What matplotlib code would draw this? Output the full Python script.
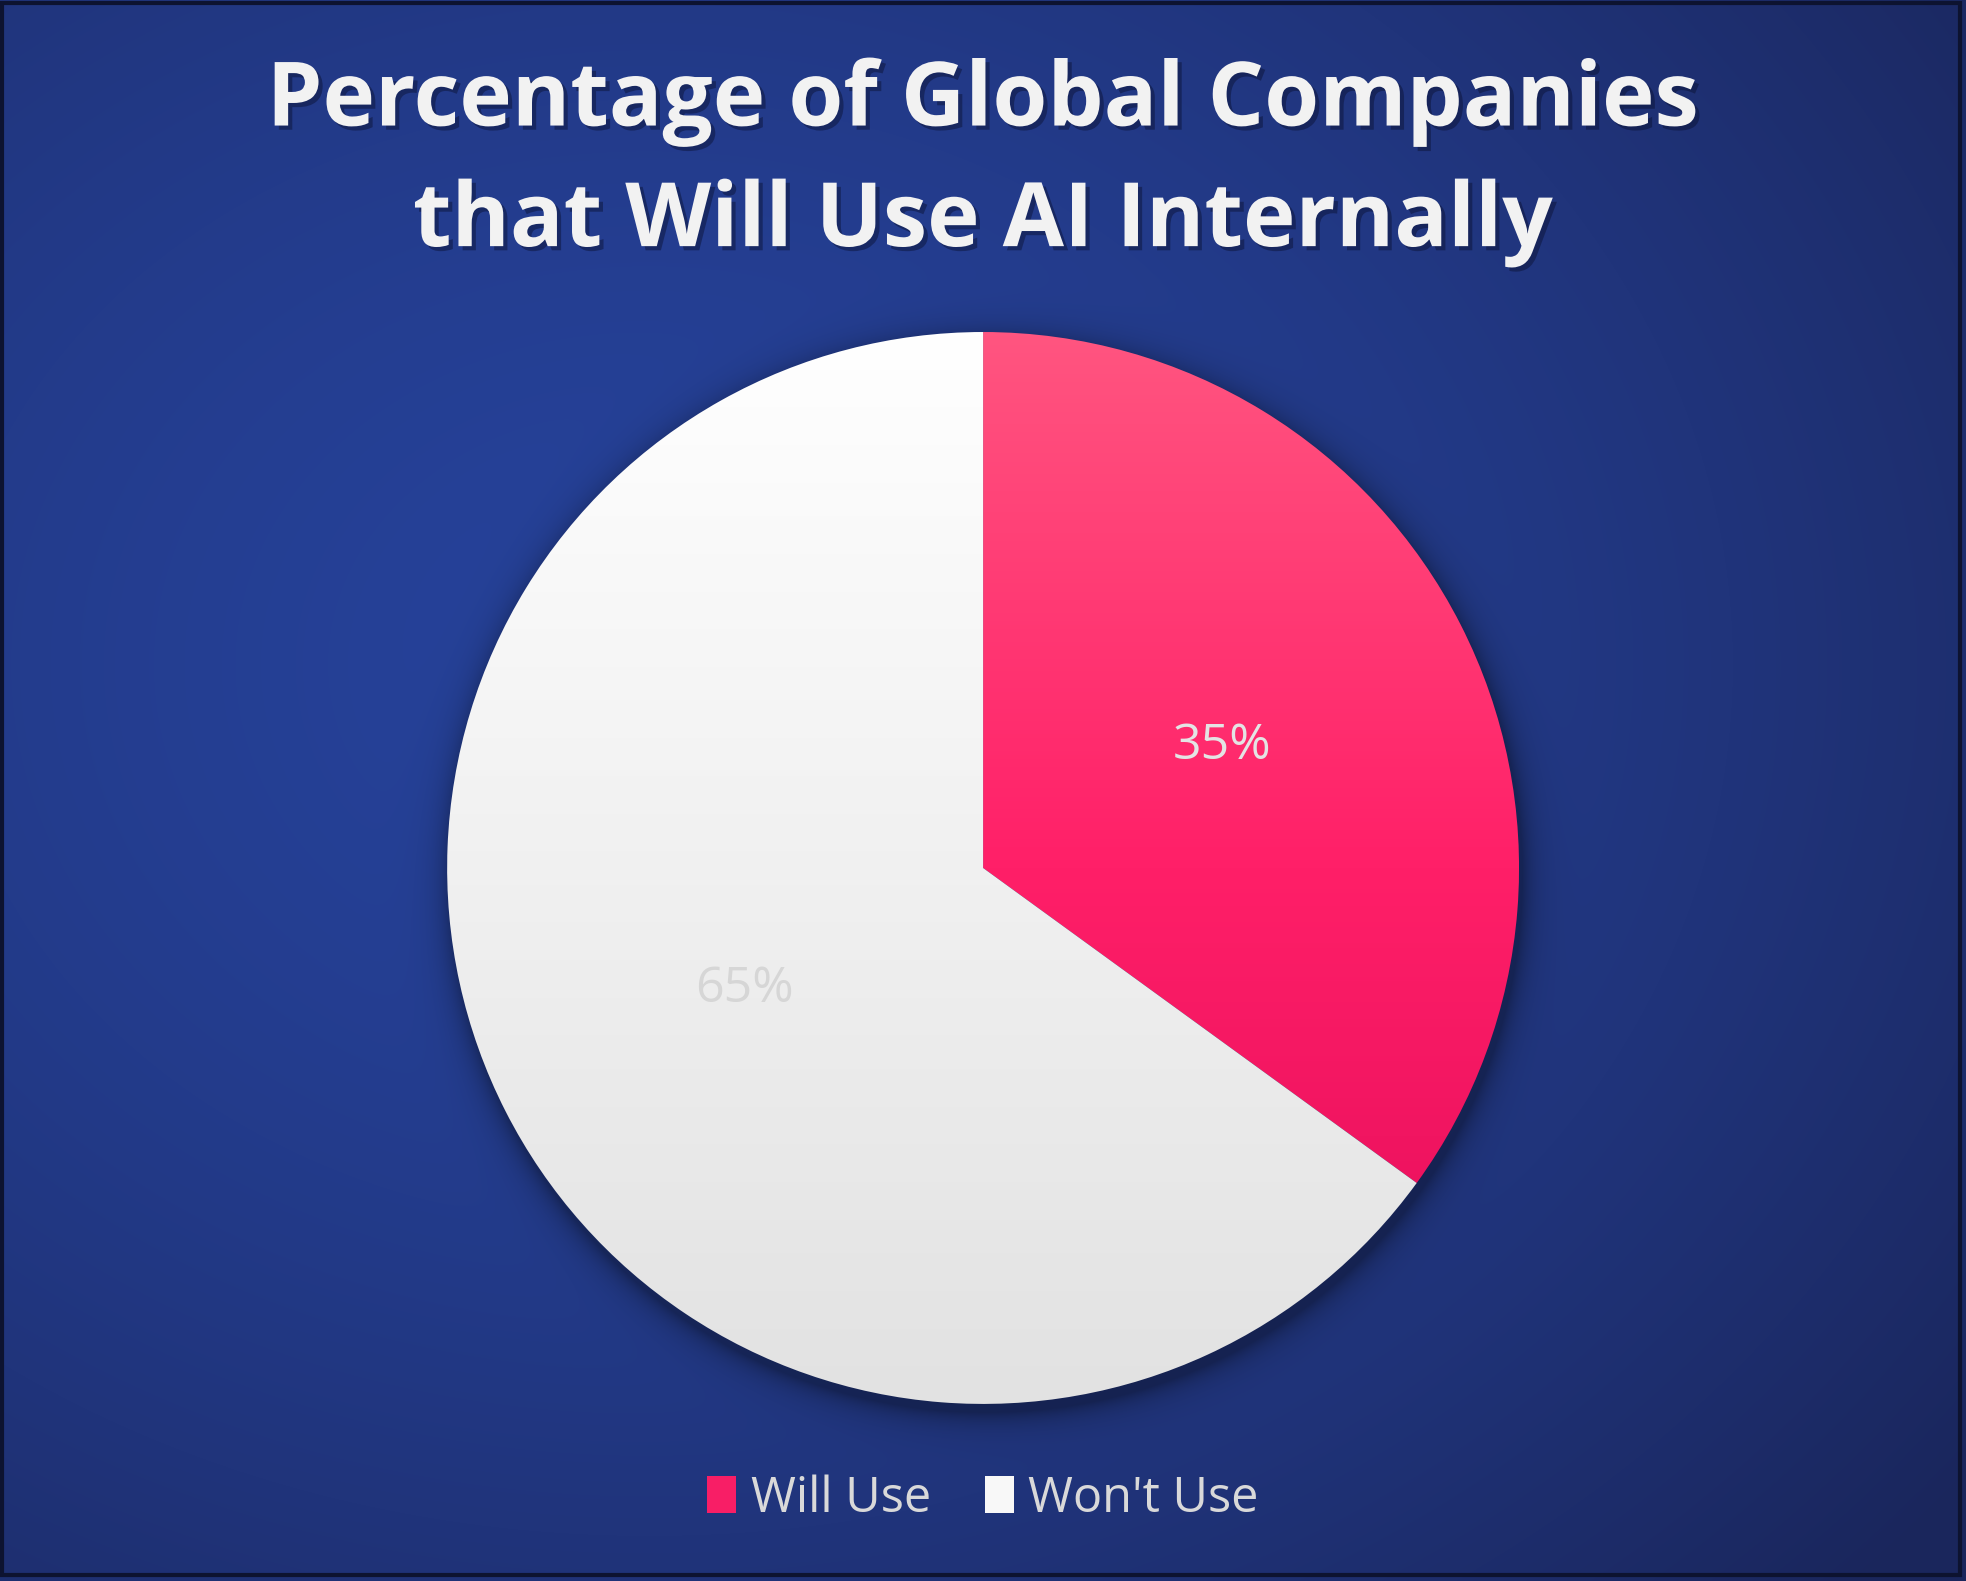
import matplotlib.pyplot as plt
import matplotlib.patches as mpatches
import matplotlib.patheffects as pe
import numpy as np

# chart data
labels = ["Will Use", "Won't Use"]
shares = [35, 65]
top_colors = ["#ff5580", "#ffffff"]
bottom_colors = ["#e30b5a", "#e2e2e2"]
legend_colors = ["#f81e66", "#f8f8f8"]
title = "Percentage of Global Companies\nthat Will Use AI Internally"

W, H, DPI = 1966, 1581, 100
fig = plt.figure(figsize=(W / DPI, H / DPI), dpi=DPI)
fig.patch.set_facecolor("white")

# pie position in figure fractions
pie_box = [0.2274, 0.112, 0.5453, 0.678]

# background: radial blue gradient + soft shadow around the pie
bg = fig.add_axes([0, 0, 1, 1], zorder=0)
yy, xx = np.mgrid[0:H, 0:W]
cx, cy = 0.33 * W, 0.42 * H
d = np.sqrt(((xx - cx) / W) ** 2 + ((yy - cy) / H) ** 2)
t = np.clip(d / 0.85, 0, 1) ** 1.6
inner = np.array([0x26, 0x42, 0x9a]) / 255
outer = np.array([0x1a, 0x26, 0x5c]) / 255
img = inner[None, None, :] * (1 - t[..., None]) + outer[None, None, :] * t[..., None]

pcx = (pie_box[0] + pie_box[2] / 2) * W
pcy = (1 - (pie_box[1] + pie_box[3] / 2)) * H
prad = pie_box[2] * W / 2
r = np.sqrt((xx - pcx - 3) ** 2 + (yy - pcy - 8) ** 2)
shadow = np.exp(-np.clip(r - prad, 0, None) / 14.0) * 0.35
img = img * (1 - shadow[..., None])

bg.imshow(img, extent=[0, 1, 0, 1], aspect="auto", origin="upper")
bg.add_patch(mpatches.Rectangle((0.001, 0.004), 0.996, 0.994, fill=False,
                                edgecolor="#0d1330", linewidth=3))
bg.set_xlim(0, 1)
bg.set_ylim(0, 1)
bg.axis("off")

# pie
ax = fig.add_axes(pie_box, zorder=2)
ax.set_facecolor("none")
wedges, texts, autotexts = ax.pie(
    shares, startangle=90, counterclock=False, radius=1,
    autopct="%d%%", pctdistance=0.5,
    colors=legend_colors,
    wedgeprops=dict(linewidth=0),
    textprops=dict(fontsize=36, family="Open Sans"))
autotexts[0].set_color("#e4e4e4")
autotexts[1].set_color("#d6d6d6")
for at in autotexts:
    at.set_zorder(5)

# vertical gradient fill for each wedge
to_rgb = plt.matplotlib.colors.to_rgb
s = np.linspace(0, 1, 256)[:, None]
for i, (w, c1, c2) in enumerate(zip(wedges, top_colors, bottom_colors)):
    c1 = np.array(to_rgb(c1))
    c2 = np.array(to_rgb(c2))
    if i == 0:
        # pink slice: lighter at top, saturated in the middle, darker at bottom
        mid = np.array(to_rgb("#ff1f68"))
        grad = np.where(s < 0.5,
                        c1 * (1 - s / 0.5) + mid * (s / 0.5),
                        mid * (1 - (s - 0.5) / 0.5) + c2 * ((s - 0.5) / 0.5))
    else:
        grad = c1 * (1 - s) + c2 * s
    im = ax.imshow(grad[:, None, :], extent=[-1, 1, -1, 1], aspect="auto",
                   origin="upper", zorder=1)
    im.set_clip_path(w)
    w.set_alpha(0)

ax.set_xlim(-1, 1)
ax.set_ylim(-1, 1)
ax.set_aspect("equal")
ax.axis("off")

# title
fig.text(0.5, 0.897, title, ha="center", va="center", color="#f2f2f2",
         fontsize=64, fontweight="bold", family="Open Sans", linespacing=1.45,
         path_effects=[pe.withSimplePatchShadow(offset=(3, -3), alpha=0.45,
                                                 shadow_rgbFace="#0a1030")])

# legend
handles = [mpatches.Patch(facecolor=c, edgecolor="none", label=l)
           for c, l in zip(legend_colors, labels)]
leg = fig.legend(handles=handles, loc="center", bbox_to_anchor=(0.5, 0.052),
                 ncol=2, frameon=False, handlelength=0.6,
                 handleheight=0.8, handletextpad=0.3, columnspacing=1.1,
                 prop=dict(family="Open Sans", size=35))
for txt in leg.get_texts():
    txt.set_color("#d9d9d9")

fig.savefig("out.png", dpi=DPI, facecolor=fig.get_facecolor())
